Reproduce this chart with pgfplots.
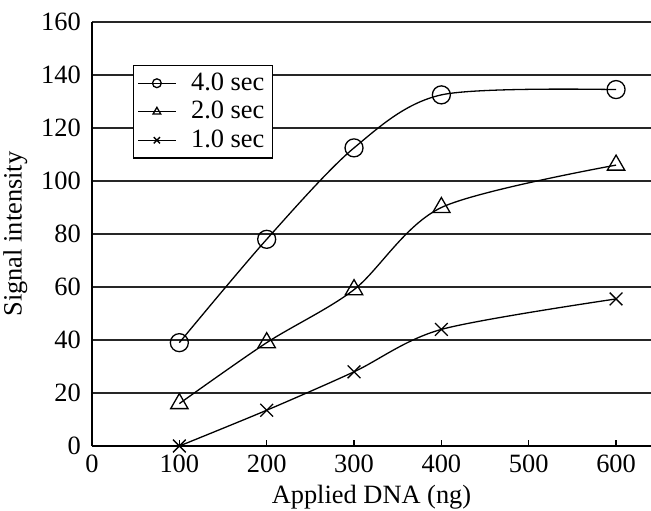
\documentclass[border=0pt]{standalone}
\usepackage{fontspec}
\setmainfont{Liberation Serif}
\usepackage{pgfplots}
\pgfplotsset{compat=1.18}
\usetikzlibrary{calc}

\begin{document}
\fontsize{13.2}{15}\selectfont
\begin{tikzpicture}
  \begin{axis}[
    name=ax,
    scale only axis,
    width=279.5pt, height=212pt,
    xmin=0, xmax=640, ymin=0, ymax=160,
    xtick={0,100,...,600},
    ytick={0,20,...,160},
    axis x line=bottom, axis y line=left,
    axis line style={-, line width=0.65pt},
    x axis line style={-},
    y axis line style={-},
    ymajorgrids,
    major grid style={black!85, line width=0.65pt},
    xtick style={black, line width=0.65pt},
    major tick length=3pt,
    ytick style={draw=none},
    tick align=inside,
    /pgf/number format/assume math mode=true,
    /pgf/number format/1000 sep={},
    tick label style={font=\fontsize{13.2}{15}\selectfont},
    label style={font=\fontsize{13.2}{15}\selectfont},
    xlabel={Applied DNA (ng)},
    ylabel={Signal intensity},
    xlabel style={yshift=3pt},
    ylabel style={yshift=-2pt},
    yticklabel style={xshift=-1pt},
    legend style={at={(0.073,0.899)}, anchor=north west, draw=black,
      line width=0.65pt, font=\fontsize{13.2}{15}\selectfont,
      inner xsep=2pt, inner ysep=1.5pt, row sep=-0.5pt},
    legend cell align=left,
    legend image code/.code={
      \draw[mark repeat=2, mark phase=2] plot coordinates {(0cm,0cm) (0.33cm,0cm) (0.66cm,0cm)};
      \path (0.85cm,0cm);
    },
    legend image post style={mark size=2.2pt},
    every axis plot/.append style={black, line width=0.65pt, smooth, tension=0.5},
  ]
    % 4.0 sec
    \addplot[mark=o, mark size=4.5pt] coordinates
      {(100,39) (200,78) (300,112.5) (400,132.5) (600,134.5)};
    \addlegendentry{4.0 sec}
    % 2.0 sec
    \addplot[mark=triangle, mark size=5pt] coordinates
      {(100,16) (200,39) (300,59) (400,90) (600,106)};
    \addlegendentry{2.0 sec}
    % 1.0 sec
    \addplot[mark=x, mark size=4.5pt] coordinates
      {(100,0) (200,13.5) (300,28) (400,44) (600,55.5)};
    \addlegendentry{1.0 sec}
  \end{axis}
  \pgfresetboundingbox
  \path ($(ax.south west)+(-46pt,-32pt)$) rectangle ($(ax.north east)+(0pt,11pt)$);
\end{tikzpicture}
\end{document}
